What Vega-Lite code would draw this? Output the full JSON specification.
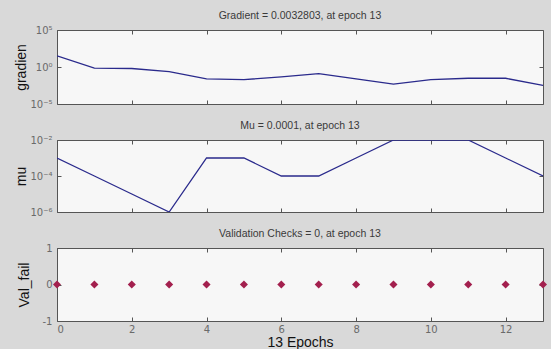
{
  "$schema": "https://vega.github.io/schema/vega-lite/v6.json",
  "background": "#d9d9d9",
  "padding": {"left": 14, "top": 10, "right": 4, "bottom": 4},
  "bounds": "flush",
  "spacing": 36,
  "datasets": {
    "train": [
      {"epoch": 0, "gradient": 31.6, "mu": 0.001, "val_fail": 0},
      {"epoch": 1, "gradient": 0.72, "mu": 0.0001, "val_fail": 0},
      {"epoch": 2, "gradient": 0.63, "mu": 0.00001, "val_fail": 0},
      {"epoch": 3, "gradient": 0.23, "mu": 0.000001, "val_fail": 0},
      {"epoch": 4, "gradient": 0.025, "mu": 0.001, "val_fail": 0},
      {"epoch": 5, "gradient": 0.02, "mu": 0.001, "val_fail": 0},
      {"epoch": 6, "gradient": 0.045, "mu": 0.0001, "val_fail": 0},
      {"epoch": 7, "gradient": 0.126, "mu": 0.0001, "val_fail": 0},
      {"epoch": 8, "gradient": 0.025, "mu": 0.001, "val_fail": 0},
      {"epoch": 9, "gradient": 0.005, "mu": 0.01, "val_fail": 0},
      {"epoch": 10, "gradient": 0.02, "mu": 0.01, "val_fail": 0},
      {"epoch": 11, "gradient": 0.03, "mu": 0.01, "val_fail": 0},
      {"epoch": 12, "gradient": 0.03, "mu": 0.001, "val_fail": 0},
      {"epoch": 13, "gradient": 0.0032803, "mu": 0.0001, "val_fail": 0}
    ]
  },
  "config": {
    "font": "Liberation Sans",
    "view": {"fill": "#f7f7f7", "stroke": "#555555", "strokeWidth": 1},
    "title": {"fontSize": 10.5, "fontWeight": "normal", "color": "#3a3a3a", "offset": 4, "anchor": "middle"},
    "axis": {
      "grid": false, "domain": false, "tickSize": -4, "tickColor": "#555555",
      "labelColor": "#6a6a6a", "labelFontSize": 10, "labelFont": "DejaVu Sans", "titleFontSize": 14,
      "titleFontWeight": "normal", "titleColor": "#111111", "labelPadding": 9, "labelOverlap": false
    }
  },
  "vconcat": [
    {
      "width": 486, "height": 74,
      "title": "Gradient = 0.0032803, at epoch 13",
      "data": {"name": "train"},
      "layer": [
        {
          "mark": {"type": "line", "color": "#2a2a8c", "strokeWidth": 1.3, "clip": true},
          "encoding": {
            "x": {"field": "epoch", "type": "quantitative", "scale": {"domain": [0, 13], "nice": false},
                  "axis": {"values": [0, 2, 4, 6, 8, 10, 12], "labels": false, "title": null}},
            "y": {"field": "gradient", "type": "quantitative",
                  "scale": {"type": "log", "domain": [0.00001, 100000], "nice": false},
                  "axis": {"values": [0.00001, 1, 100000], "title": "gradien", "titlePadding": 1,
                           "labelExpr": "datum.value > 1000 ? '10⁵' : datum.value > 0.5 ? '10⁰' : '10⁻⁵'"}}
          }
        },
        {
          "mark": {"type": "point", "opacity": 0},
          "encoding": {
            "x": {"field": "epoch", "type": "quantitative",
                  "axis": {"orient": "top", "values": [0, 2, 4, 6, 8, 10, 12], "labels": false, "title": null}},
            "y": {"field": "gradient", "type": "quantitative",
                  "axis": {"orient": "right", "values": [0.00001, 1, 100000], "labels": false, "title": null}}
          }
        }
      ],
      "resolve": {"axis": {"x": "independent", "y": "independent"}}
    },
    {
      "width": 486, "height": 72,
      "title": "Mu = 0.0001, at epoch 13",
      "data": {"name": "train"},
      "layer": [
        {
          "mark": {"type": "line", "color": "#2a2a8c", "strokeWidth": 1.3, "clip": true},
          "encoding": {
            "x": {"field": "epoch", "type": "quantitative", "scale": {"domain": [0, 13], "nice": false},
                  "axis": {"values": [0, 2, 4, 6, 8, 10, 12], "labels": false, "title": null}},
            "y": {"field": "mu", "type": "quantitative",
                  "scale": {"type": "log", "domain": [0.000001, 0.01], "nice": false},
                  "axis": {"values": [0.000001, 0.0001, 0.01], "title": "mu", "titlePadding": 1,
                           "labelExpr": "datum.value > 0.001 ? '10⁻²' : datum.value > 0.00001 ? '10⁻⁴' : '10⁻⁶'"}}
          }
        },
        {
          "mark": {"type": "point", "opacity": 0},
          "encoding": {
            "x": {"field": "epoch", "type": "quantitative",
                  "axis": {"orient": "top", "values": [0, 2, 4, 6, 8, 10, 12], "labels": false, "title": null}},
            "y": {"field": "mu", "type": "quantitative",
                  "axis": {"orient": "right", "values": [0.000001, 0.0001, 0.01], "labels": false, "title": null}}
          }
        }
      ],
      "resolve": {"axis": {"x": "independent", "y": "independent"}}
    },
    {
      "width": 486, "height": 73,
      "title": "Validation Checks = 0, at epoch 13",
      "data": {"name": "train"},
      "layer": [
        {
          "mark": {"type": "point", "shape": "diamond", "filled": true, "color": "#a3204e", "size": 65, "opacity": 1, "clip": false},
          "encoding": {
            "x": {"field": "epoch", "type": "quantitative", "scale": {"domain": [0, 13], "nice": false},
                  "axis": {"values": [0, 2, 4, 6, 8, 10, 12], "title": "13  Epochs", "titlePadding": 1, "labelPadding": 7}},
            "y": {"field": "val_fail", "type": "quantitative",
                  "scale": {"domain": [-1, 1], "nice": false},
                  "axis": {"values": [-1, 0, 1], "labelExpr": "toString(datum.value)", "title": "Val_fail", "titlePadding": 11}}
          }
        },
        {
          "mark": {"type": "point", "opacity": 0},
          "encoding": {
            "x": {"field": "epoch", "type": "quantitative",
                  "axis": {"orient": "top", "values": [0, 2, 4, 6, 8, 10, 12], "labels": false, "title": null}},
            "y": {"field": "val_fail", "type": "quantitative",
                  "axis": {"orient": "right", "values": [-1, 0, 1], "labels": false, "title": null}}
          }
        }
      ],
      "resolve": {"axis": {"x": "independent", "y": "independent"}}
    }
  ]
}
